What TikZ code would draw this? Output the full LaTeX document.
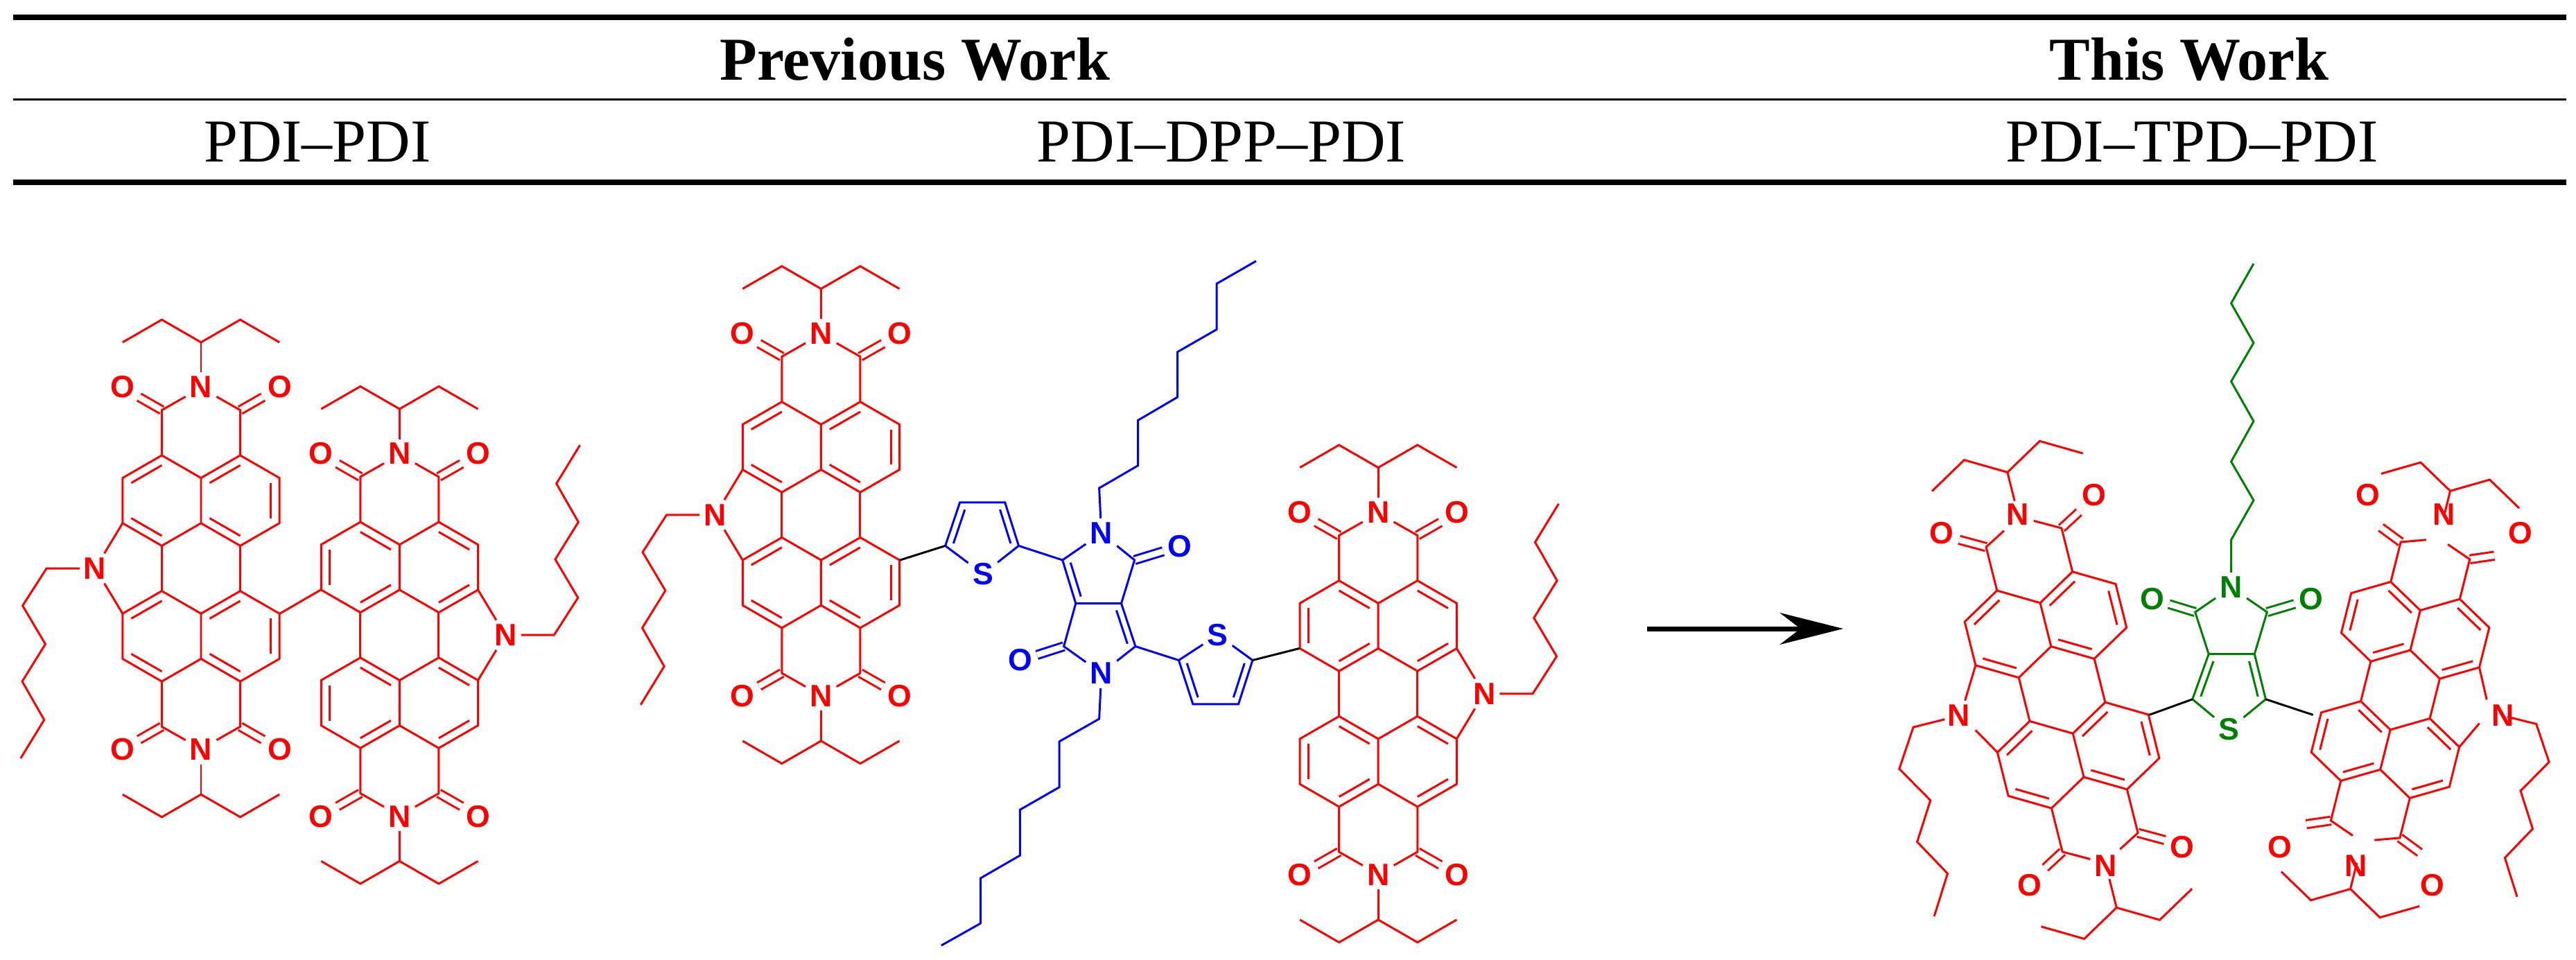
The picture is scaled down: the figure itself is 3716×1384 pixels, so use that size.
\documentclass[tikz,border=0pt]{standalone}
\usepackage{fontspec}
\setmainfont{Liberation Serif}
\newfontfamily\atomfont{Liberation Sans}
\usetikzlibrary{calc,arrows.meta}
\definecolor{dppblue}{RGB}{0,0,255}
\definecolor{tpdgreen}{RGB}{0,128,0}
\tikzset{
  bond/.style={line width=0.85pt},
  atom/.style={font=\atomfont\bfseries\fontsize{12.7}{14}\selectfont,inner sep=1.6pt},
  dbl/.style={double distance=2.4pt,line width=0.85pt},
  head/.style={font=\fontsize{25}{28}\selectfont,anchor=base},
}
\newcommand\inb[3]{\draw[bond] ($(#1)!0.22!(#3)$) -- ($(#2)!0.22!(#3)$);}
\newcommand\pdi[2]{%
\begin{scope}[#2]
\coordinate (#1a1) at (-1,-5); \coordinate (#1a2) at (1,-5);
\coordinate (#1b1) at (-2,-4); \coordinate (#1b0) at (0,-4); \coordinate (#1b2) at (2,-4);
\coordinate (#1c1) at (-2,-2); \coordinate (#1c0) at (0,-2); \coordinate (#1c2) at (2,-2);
\coordinate (#1d1) at (-1,-1); \coordinate (#1d2) at (1,-1);
\coordinate (#1e1) at (-1,1); \coordinate (#1e2) at (1,1);
\coordinate (#1f1) at (-2,2); \coordinate (#1f0) at (0,2); \coordinate (#1f2) at (2,2);
\coordinate (#1g1) at (-2,4); \coordinate (#1g0) at (0,4); \coordinate (#1g2) at (2,4);
\coordinate (#1h1) at (-1,5); \coordinate (#1h2) at (1,5);
\coordinate (#1RA) at (-1,-3); \coordinate (#1RB) at (1,-3);
\coordinate (#1RC) at (-1,3); \coordinate (#1RD) at (1,3);
\coordinate (#1ct1) at (-1,-7); \coordinate (#1ct2) at (1,-7);
\coordinate (#1cb1) at (-1,7); \coordinate (#1cb2) at (1,7);
\node[atom] (#1nt) at (0,-8) {N};
\node[atom] (#1ot1) at (-2,-8) {O};
\node[atom] (#1ot2) at (2,-8) {O};
\node[atom] (#1nb) at (0,8) {N};
\node[atom] (#1ob1) at (-2,8) {O};
\node[atom] (#1ob2) at (2,8) {O};
\node[atom] (#1np) at (-2.7,0) {N};
\coordinate (#1s0) at (0,-10); \coordinate (#1s1) at (-1,-11); \coordinate (#1s2) at (-2,-10);
\coordinate (#1s3) at (1,-11); \coordinate (#1s4) at (2,-10);
\coordinate (#1t0) at (0,10); \coordinate (#1t1) at (-1,11); \coordinate (#1t2) at (-2,10);
\coordinate (#1t3) at (1,11); \coordinate (#1t4) at (2,10);
\coordinate (#1k1) at (-3.94,0); \coordinate (#1k2) at (-4.55,1.65);
\coordinate (#1k3) at (-3.97,3.35); \coordinate (#1k4) at (-4.56,5.0);
\coordinate (#1k5) at (-4.0,6.7); \coordinate (#1k6) at (-4.6,8.4);
\draw[dbl] (#1ct1) -- (#1ot1); \draw[dbl] (#1ct2) -- (#1ot2);
\draw[dbl] (#1cb1) -- (#1ob1); \draw[dbl] (#1cb2) -- (#1ob2);
\draw[bond] (#1a1) -- (#1b0) -- (#1c0) -- (#1d1) -- (#1c1) -- (#1b1) -- cycle;
\draw[bond] (#1a2) -- (#1b2) -- (#1c2) -- (#1d2) -- (#1c0);
\draw[bond] (#1b0) -- (#1a2);
\draw[bond] (#1d1) -- (#1e1); \draw[bond] (#1d2) -- (#1e2);
\draw[bond] (#1e1) -- (#1f0) -- (#1g0) -- (#1h1) -- (#1g1) -- (#1f1) -- cycle;
\draw[bond] (#1e2) -- (#1f2) -- (#1g2) -- (#1h2) -- (#1g0);
\draw[bond] (#1f0) -- (#1e2);
\inb{#1b1}{#1a1}{#1RA} \inb{#1b0}{#1a2}{#1RB} \inb{#1b2}{#1c2}{#1RB}
\inb{#1c1}{#1d1}{#1RA} \inb{#1c0}{#1d2}{#1RB}
\inb{#1f1}{#1e1}{#1RC} \inb{#1f0}{#1e2}{#1RD} \inb{#1f2}{#1g2}{#1RD}
\inb{#1g1}{#1h1}{#1RC} \inb{#1g0}{#1h2}{#1RD}
\draw[bond] (#1a1) -- (#1ct1) -- (#1nt) -- (#1ct2) -- (#1a2);
\draw[bond] (#1h1) -- (#1cb1) -- (#1nb) -- (#1cb2) -- (#1h2);
\draw[bond] (#1nt) -- (#1s0); \draw[bond] (#1s2) -- (#1s1) -- (#1s0) -- (#1s3) -- (#1s4);
\draw[bond] (#1nb) -- (#1t0); \draw[bond] (#1t2) -- (#1t1) -- (#1t0) -- (#1t3) -- (#1t4);
\draw[bond] (#1c1) -- (#1np) -- (#1f1);
\draw[bond] (#1np) -- (#1k1) -- (#1k2) -- (#1k3) -- (#1k4) -- (#1k5) -- (#1k6);
\end{scope}}
\begin{document}
\begin{tikzpicture}[x=0.01cm,y=-0.01cm]
\useasboundingbox (0,0) rectangle (3716,1384);
% table
\coordinate (r1a) at (19,25); \coordinate (r1b) at (3702,25);
\coordinate (r2a) at (19,143.5); \coordinate (r2b) at (3702,143.5);
\coordinate (r3a) at (19,263); \coordinate (r3b) at (3702,263);
\draw[line width=2.3pt] (r1a) -- (r1b);
\draw[line width=1pt] (r2a) -- (r2b);
\draw[line width=2.3pt] (r3a) -- (r3b);
\node[head] (hprev) at (1320,115) {\bfseries Previous Work};
\node[head] (hthis) at (3158,115) {\bfseries This Work};
\node[head] (hpp) at (458,233) {PDI–PDI};
\node[head] (hdpp) at (1762,233) {PDI–DPP–PDI};
\node[head] (htpd) at (3162,233) {PDI–TPD–PDI};
% PDI units
\pdi{pa}{shift={(290,820)},xscale=56.7,yscale=32.7,red}
\pdi{pb}{shift={(576.4,916.2)},rotate=180,xscale=56.7,yscale=32.7,red}
\pdi{pc}{shift={(1184.4,742.8)},xscale=56.7,yscale=32.7,red}
\pdi{pd}{shift={(1988.2,1000.75)},rotate=180,xscale=56.7,yscale=32.7,red}
\pdi{pe}{shift={(2974.5,995.4)},rotate=14.04,xscale=56.7,yscale=32.7,red}
\pdi{pf}{shift={(3462.5,995.4)},rotate=-14.04,xscale=-56.7,yscale=32.7,red}
\draw[bond,red] (paf2) -- (pbf2);
% DPP part
\begin{scope}[dppblue]
\coordinate (ta2) at (1363.6,787.4); \coordinate (ta3) at (1384.7,724.8);
\coordinate (ta4) at (1449.7,724.8); \coordinate (ta5) at (1469.5,787.4);
\node[atom] (tas) at (1417.9,828) {S};
\coordinate (tac) at (1417,772);
\draw[bond] (ta2) -- (ta3) -- (ta4) -- (ta5) -- (tas) -- (ta2);
\inb{ta2}{ta3}{tac} \inb{ta4}{ta5}{tac}
\coordinate (dca) at (1532.7,808); \node[atom] (dn1) at (1588.8,769.4) {N};
\coordinate (dcb) at (1636.6,808); \node[atom] (do1) at (1701.7,788.1) {O};
\coordinate (dcc) at (1617.5,870.6); \coordinate (dcd) at (1551.8,870.6);
\coordinate (dce) at (1637.9,932.5); \node[atom] (dn2) at (1588.8,971.2) {N};
\coordinate (dcf) at (1534.6,932.5); \node[atom] (do2) at (1472.1,952.5) {O};
\coordinate (dr1) at (1585.5,825); \coordinate (dr2) at (1585.5,915.5);
\draw[dbl] (dcb) -- (do1); \draw[dbl] (dcf) -- (do2);
\draw[bond] (ta5) -- (dca) -- (dn1) -- (dcb) -- (dcc) -- (dcd) -- (dca);
\draw[bond] (dcc) -- (dce) -- (dn2) -- (dcf) -- (dcd);
\inb{dca}{dcd}{dr1} \inb{dcc}{dce}{dr2}
\coordinate (u1) at (1585.6,704.2); \coordinate (u2) at (1641.7,671.6);
\coordinate (u3) at (1641.7,606.3); \coordinate (u4) at (1698.5,573.0);
\coordinate (u5) at (1698.5,507.8); \coordinate (u6) at (1755.2,475.2);
\coordinate (u7) at (1755.2,409.2); \coordinate (u8) at (1812,376.6);
\draw[bond] (dn1) -- (u1) -- (u2) -- (u3) -- (u4) -- (u5) -- (u6) -- (u7) -- (u8);
\coordinate (w1) at (1585.6,1037.1); \coordinate (w2) at (1528.2,1069.7);
\coordinate (w3) at (1528.2,1135.6); \coordinate (w4) at (1471.4,1168.2);
\coordinate (w5) at (1471.4,1234.1); \coordinate (w6) at (1414.7,1266.8);
\coordinate (w7) at (1414.7,1332.0); \coordinate (w8) at (1357.9,1364.0);
\draw[bond] (dn2) -- (w1) -- (w2) -- (w3) -- (w4) -- (w5) -- (w6) -- (w7) -- (w8);
\coordinate (tb2) at (1700.4,952.5); \node[atom] (tbs) at (1756.5,915.9) {S};
\coordinate (tb5) at (1806.9,952.5); \coordinate (tb4) at (1786.5,1015.8);
\coordinate (tb3) at (1720.8,1015.8); \coordinate (tbc) at (1754,972);
\draw[bond] (dce) -- (tb2) -- (tbs) -- (tb5) -- (tb4) -- (tb3) -- (tb2);
\inb{tb2}{tb3}{tbc} \inb{tb4}{tb5}{tbc}
\end{scope}
\draw[bond,black] (pcf2) -- (ta2);
\draw[bond,black] (tb5) -- (pdf2);
% arrow
\coordinate (as) at (2376,907); \coordinate (ae) at (2659,907);
\draw[line width=2pt,-{Stealth[length=26pt,width=13pt]}] (as) -- (ae);
% TPD part
\begin{scope}[tpdgreen]
\node[atom] (gn) at (3218.5,847.5) {N};
\coordinate (gcl) at (3166.6,883.1); \node[atom] (gol) at (3105.1,864.3) {O};
\coordinate (gcr) at (3270.3,883.1); \node[atom] (gor) at (3333.8,864.3) {O};
\coordinate (gfl) at (3186.1,943.6); \coordinate (gfr) at (3252.2,943.6);
\coordinate (gtl) at (3162.7,1008.8); \coordinate (gtr) at (3268.4,1008.8);
\node[atom] (gs) at (3215.2,1052.4) {S};
\coordinate (gc) at (3217,991);
\draw[dbl] (gcl) -- (gol); \draw[dbl] (gcr) -- (gor);
\draw[bond] (gfl) -- (gcl) -- (gn) -- (gcr) -- (gfr) -- (gfl) -- (gtl) -- (gs) -- (gtr) -- (gfr);
\inb{gfl}{gtl}{gc} \inb{gfr}{gtr}{gc}
\coordinate (m1) at (3218.5,778.9); \coordinate (m2) at (3250.9,721.8);
\coordinate (m3) at (3218.5,666.0); \coordinate (m4) at (3250.9,607.6);
\coordinate (m5) at (3218.5,550.4); \coordinate (m6) at (3250.9,494.7);
\coordinate (m7) at (3218.5,437.5); \coordinate (m8) at (3250.9,380.4);
\draw[bond] (gn) -- (m1) -- (m2) -- (m3) -- (m4) -- (m5) -- (m6) -- (m7) -- (m8);
\end{scope}
\draw[bond,black] (pef2) -- (gtl);
\draw[bond,black] (gtr) -- (pff2);
\end{tikzpicture}
\end{document}
